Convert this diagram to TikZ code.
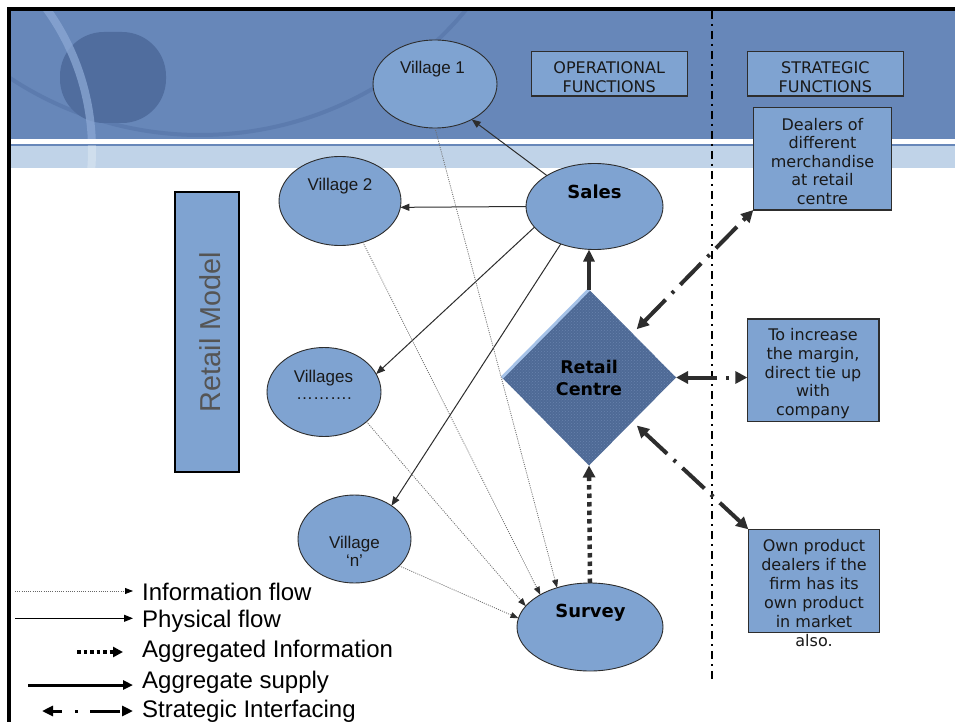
\documentclass[tikz,border=0pt]{standalone}
\usepackage{fontspec}
\setmainfont{DejaVu Sans}
\newfontfamily\arialfont{Liberation Sans}
\usetikzlibrary{arrows.meta,shapes.geometric,patterns}
\definecolor{hdr}{RGB}{103,135,185}
\definecolor{boxfill}{RGB}{127,163,209}
\definecolor{band}{RGB}{192,211,232}
\definecolor{blobc}{RGB}{80,109,158}
\definecolor{arcdark}{RGB}{92,123,174}
\definecolor{arclight}{RGB}{140,168,212}
\definecolor{diamc}{RGB}{78,106,150}
\definecolor{diamdot}{RGB}{104,130,172}
\definecolor{diamedge}{RGB}{165,194,232}
\definecolor{ink}{RGB}{45,45,45}
\definecolor{infoc}{RGB}{110,110,110}
\definecolor{modelc}{RGB}{85,85,85}
\begin{document}
\begin{tikzpicture}[x=1pt,y=-1pt,
  vell/.style={ellipse,draw=ink,line width=0.9pt,fill=boxfill,inner sep=0pt,outer sep=0pt},
  fbox/.style={draw=ink,line width=1.2pt,fill=boxfill,inner sep=0pt,outer sep=0pt},
  btext/.style={font=\fontsize{16}{18.8}\selectfont,align=center,inner sep=0pt,text=black!90},
  vlab/.style={font=\arialfont\fontsize{17}{20}\selectfont,inner sep=0pt,anchor=base,text=black!90},
  blab/.style={font=\bfseries\fontsize{18}{22}\selectfont,inner sep=0pt,anchor=base},
  legt/.style={font=\arialfont\fontsize{24}{28}\selectfont,inner sep=0pt,anchor=base west},
  phys/.style={draw=ink,line width=1pt,-{Triangle[length=9pt,width=7pt]}},
  info/.style={draw=infoc,line width=0.8pt,dash pattern=on 1pt off 1.2pt,-{Triangle[length=8pt,width=6pt,color=ink]}},
  aggi/.style={draw=ink,line width=4.5pt,dash pattern=on 4.5pt off 4pt,-{Triangle[length=12pt,width=12pt]}},
  aggs/.style={draw=ink,line width=4pt,-{Triangle[length=12pt,width=11pt]}},
  strat/.style={draw=ink,line width=4pt,dash pattern=on 30pt off 9pt on 3pt off 9pt,{Triangle[length=12pt,width=12pt]}-{Triangle[length=12pt,width=12pt]}},
  legstrat/.style={draw=black,line width=3pt,dash pattern=on 10pt off 13pt on 3pt off 12pt on 30pt,{Triangle[length=11pt,width=10pt]}-{Triangle[length=11pt,width=10pt]}},
  vsep/.style={draw=black,line width=2.6pt,dash pattern=on 8pt off 5pt on 2pt off 5pt},
]
\useasboundingbox (0,0) rectangle (955,722);
\fill[white] (0,0) rectangle (955,722);
% header
\fill[hdr] (11,11) rectangle (955,139);
\fill[band] (11,146) rectangle (955,168);
\draw[hdr,line width=1.5pt] (11,145) -- (955,145);
\begin{scope}
  \clip (11,11) rectangle (955,139);
  \draw[arcdark,line width=4pt] (200,-210) circle[radius=345];
  \fill[blobc,rounded corners=44pt] (60,32) rectangle (166,123);
  \draw[arclight,line width=8pt,opacity=0.75] (-150,150) circle[radius=242];
\end{scope}
\begin{scope}
  \clip (11,146) rectangle (955,168);
  \draw[white,line width=8pt,opacity=0.25] (-150,150) circle[radius=242];
\end{scope}
% border
\draw[black,line width=4pt] (9,722) -- (9,9) -- (955,9);
% separator
\coordinate (vtop) at (712,11);
\coordinate (vbot) at (712,683);
\draw[vsep] (vtop) -- (vbot);
% retail model box
\node[draw=black,line width=1.3pt,fill=boxfill,minimum width=64pt,minimum height=280pt,inner sep=0pt,outer sep=0pt] (model) at (207,332) {};
\node[font=\arialfont\fontsize{28.8}{32}\selectfont,text=modelc,rotate=90,anchor=base,inner sep=0pt] (modelt) at (220,332) {Retail Model};
% title boxes
\node[fbox,minimum width=156pt,minimum height=44.3pt] (ops) at (609.2,73.8) {};
\node[btext] (opst) at (609.2,76.9) {OPERATIONAL\\FUNCTIONS};
\node[fbox,minimum width=156pt,minimum height=44.3pt] (strt) at (825.3,73.8) {};
\node[btext] (strtt) at (825.3,76.9) {STRATEGIC\\FUNCTIONS};
% strategic boxes
\node[fbox,minimum width=138.4pt,minimum height=102.7pt] (dealers) at (822.5,158.7) {};
\node[btext,font=\fontsize{16}{18.5}\selectfont] (dealerst) at (822.5,161.1) {Dealers of\\different\\merchandise\\at retail\\centre};
\node[fbox,minimum width=131.7pt,minimum height=102.7pt] (incr) at (813.2,370.3) {};
\node[btext] (incrt) at (813,373.7) {To increase\\the margin,\\direct tie up\\with\\company};
\node[fbox,minimum width=131pt,minimum height=103.4pt] (own) at (813.8,581) {};
\node[btext,font=\fontsize{16}{19}\selectfont] (ownt) at (814,592.6) {Own product\\dealers if the\\firm has its\\own product\\in market\\also.};
% ellipses
\node[vell,minimum width=124pt,minimum height=88pt] (v1) at (435,84) {};
\node[vell,minimum width=122pt,minimum height=89pt] (v2) at (340,201) {};
\node[vell,minimum width=114pt,minimum height=89pt] (vs) at (324,392) {};
\node[vell,minimum width=113pt,minimum height=88pt] (vn) at (354.5,539) {};
\node[vell,minimum width=137pt,minimum height=86pt] (sales) at (594.5,206.5) {};
\node[vell,minimum width=146pt,minimum height=88pt] (survey) at (590,627) {};
\node[vlab] (v1t) at (432.5,74) {Village 1};
\node[vlab] (v2t) at (340,191) {Village 2};
\node[vlab] (vst) at (323.5,382) {Villages};
\node[vlab] (vsd) at (324,399) {……….};
\node[vlab] (vnt) at (354.5,548) {Village};
\node[vlab] (vnn) at (354.5,566) {‘n’};
\node[blab] (salest) at (594.5,198) {Sales};
\node[blab] (surveyt) at (590.5,617) {Survey};
% retail centre
\node[diamond,fill=diamc,postaction={pattern=crosshatch dots,pattern color=diamdot},minimum width=174pt,minimum height=176pt,inner sep=0pt,outer sep=0pt,align=center,font=\bfseries\fontsize{17.5}{22}\selectfont] (rc) at (589,377.5) {Retail\\Centre};
\draw[diamedge,line width=3pt] (rc.west) -- (rc.north);
% physical flow
\draw[phys] (sales.147.7) -- (v1.316.5);
\draw[phys] (sales.180) -- (v2.354);
\draw[phys] (sales.199.5) -- (vs.19.7);
\draw[phys] (sales.228) -- (vn.42.8);
% information flow
\draw[info] (v1.270) -- (survey.130.6);
\draw[info] (v2.299) -- (survey.147.4);
\draw[info] (vs.325) -- (survey.162);
\draw[info] (vn.329.5) -- (survey.173.7);
% aggregate
\draw[aggs] (rc.north) -- (rc.north |- sales.south);
\draw[aggi] (survey.north) -- (rc.south);
% strategic
\draw[strat,shorten <=6pt] (rc.north east) -- (dealers.south west);
\draw[strat] (rc.east) -- (rc.east -| incr.west);
\draw[strat,shorten <=6pt] (rc.south east) -- (own.north west);
% legend
\coordinate (l1a) at (15,591); \coordinate (l1b) at (133,591);
\coordinate (l2a) at (15,618.3); \coordinate (l2b) at (133,618.3);
\coordinate (l3a) at (77,652); \coordinate (l3b) at (123,652);
\coordinate (l4a) at (28,685); \coordinate (l4b) at (133,685);
\coordinate (l5a) at (42,711); \coordinate (l5b) at (133,711);
\draw[info,draw=black!60,-{Triangle[length=8pt,width=6pt,color=black]}] (l1a) -- (l1b);
\draw[phys,draw=black,-{Triangle[length=9pt,width=7pt]}] (l2a) -- (l2b);
\draw[draw=black,line width=3.5pt,dash pattern=on 3.5pt off 3pt,-{Triangle[length=10pt,width=10pt]}] (l3a) -- (l3b);
\draw[draw=black,line width=3pt,-{Triangle[length=10pt,width=9pt]}] (l4a) -- (l4b);
\draw[legstrat] (l5a) -- (l5b);
\node[legt] (lt1) at (142,600) {Information flow};
\node[legt] (lt2) at (142,627) {Physical flow};
\node[legt] (lt3) at (142,657) {Aggregated Information};
\node[legt] (lt4) at (142,688) {Aggregate supply};
\node[legt] (lt5) at (142,717) {Strategic Interfacing};
\end{tikzpicture}
\end{document}
